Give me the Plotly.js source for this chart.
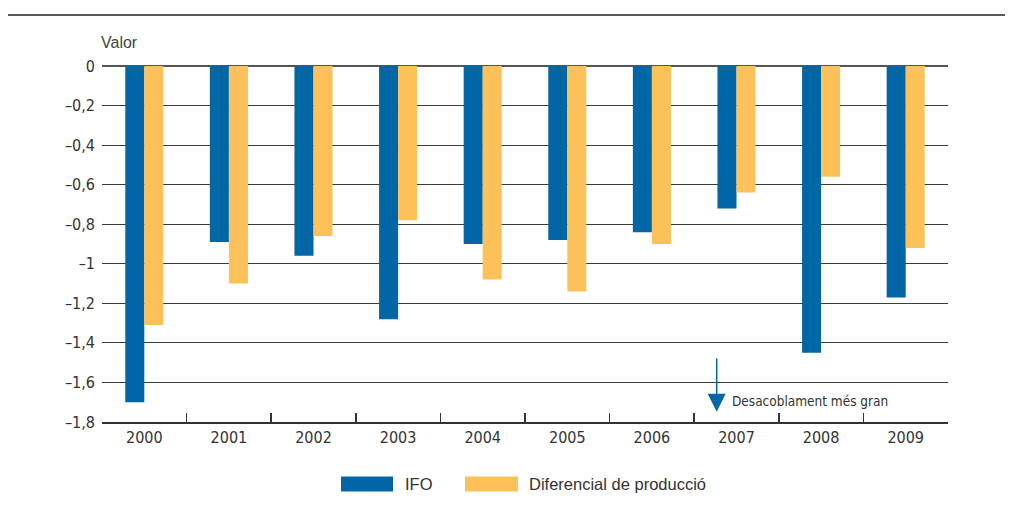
<!DOCTYPE html>
<html>
<head>
<meta charset="utf-8">
<script src="https://cdn.plot.ly/plotly-3.0.1.min.js"></script>
<style>
  html, body { margin: 0; padding: 0; background: #fff; }
  #chart { width: 1014px; height: 507px; }
</style>
</head>
<body>
<div id="chart"></div>
<script>
// Years on the category axis
const years = ['2000', '2001', '2002', '2003', '2004', '2005', '2006', '2007', '2008', '2009'];
// IFO series
const ifo = [-1.70, -0.89, -0.96, -1.28, -0.90, -0.88, -0.84, -0.72, -1.45, -1.17];
// Output gap series
const diferencial = [-1.31, -1.10, -0.86, -0.78, -1.08, -1.14, -0.90, -0.64, -0.56, -0.92];
// Value axis ticks and their labels
const yTickVals = [0, -0.2, -0.4, -0.6, -0.8, -1, -1.2, -1.4, -1.6, -1.8];
const yTickText = ['0', '–0,2', '–0,4', '–0,6', '–0,8', '–1', '–1,2', '–1,4', '–1,6', '–1,8'];
// Series names
const seriesNames = ['IFO', 'Diferencial de producció'];

const BLUE = '#0066a5';
const YELLOW = '#fcc159';
const INK = '#333333';
const NARROW = '"Liberation Sans Narrow", "DejaVu Sans Condensed", "Arial Narrow", sans-serif';
const SANS = '"Liberation Sans", Arial, sans-serif';

// Plot area in page pixels
const W = 1014, H = 507;
const M = { l: 102, r: 66, t: 66, b: 85 };
const PW = W - M.l - M.r, PH = H - M.t - M.b;
const px = x => (x - M.l) / PW;          // page x -> paper x
const py = y => (H - M.b - y) / PH;      // page y -> paper y

const traces = [
  { type: 'bar', name: seriesNames[0], x: years, y: ifo,
    marker: { color: BLUE }, hoverinfo: 'x+y' },
  { type: 'bar', name: seriesNames[1], x: years, y: diferencial,
    marker: { color: YELLOW }, hoverinfo: 'x+y' }
];

// Legend drawn as swatches plus labels under the axis
const legendItems = [
  { color: BLUE, x0: 341, x1: 393, tx: 403, label: seriesNames[0] },
  { color: YELLOW, x0: 465, x1: 518, tx: 527, label: seriesNames[1] }
];

const shapes = [
  // rule across the top of the figure
  { type: 'line', xref: 'paper', yref: 'paper', x0: px(8), x1: px(1005), y0: py(15), y1: py(15),
    line: { color: '#222', width: 1.5 } }
];
legendItems.forEach(it => shapes.push({
  type: 'rect', xref: 'paper', yref: 'paper',
  x0: px(it.x0), x1: px(it.x1), y0: py(476.5), y1: py(491.5),
  fillcolor: it.color, line: { width: 0 }
}));

const annotations = [
  { xref: 'paper', yref: 'paper', x: px(99), y: py(43), xanchor: 'left', yanchor: 'middle',
    text: 'Valor', showarrow: false, font: { family: SANS, size: 16, color: '#444' } },
  // arrow marking the 2007 divergence
  { xref: 'x', yref: 'y', axref: 'x', ayref: 'y',
    x: 6.766, y: -1.748, ax: 6.766, ay: -1.471,
    text: '', showarrow: true, arrowhead: 2, arrowsize: 2.4, arrowwidth: 1.5, arrowcolor: BLUE },
  { xref: 'paper', yref: 'paper', x: px(730), y: py(401), xanchor: 'left', yanchor: 'middle',
    text: 'Desacoblament més gran', showarrow: false,
    font: { family: NARROW, size: 13.5, color: INK } }
];
legendItems.forEach(it => annotations.push({
  xref: 'paper', yref: 'paper', x: px(it.tx), y: py(484), xanchor: 'left', yanchor: 'middle',
  text: it.label, showarrow: false, font: { family: SANS, size: 16.5, color: INK }
}));

const layout = {
  width: W, height: H,
  margin: M,
  paper_bgcolor: '#fff', plot_bgcolor: '#fff',
  showlegend: false,
  barmode: 'group',
  bargap: 0.55, bargroupgap: 0,
  font: { family: NARROW, size: 15, color: INK },
  xaxis: {
    type: 'category',
    showgrid: false,
    showline: true, linecolor: INK, linewidth: 1.5,
    ticks: 'inside', tickson: 'boundaries', ticklen: 9, tickcolor: INK, tickwidth: 1.5,
    tickfont: { family: NARROW, size: 16, color: INK },
    fixedrange: true
  },
  yaxis: {
    range: [-1.8, 0],
    tickvals: yTickVals, ticktext: yTickText,
    showgrid: true, gridcolor: '#3a3a3a', gridwidth: 1,
    zeroline: true, zerolinecolor: '#555', zerolinewidth: 1.2,
    showline: false, ticks: '',
    ticklabelstandoff: 6,
    tickfont: { family: NARROW, size: 16, color: INK },
    fixedrange: true
  },
  shapes: shapes,
  annotations: annotations
};

Plotly.newPlot('chart', traces, layout, { displayModeBar: false, staticPlot: true });
</script>
</body>
</html>
